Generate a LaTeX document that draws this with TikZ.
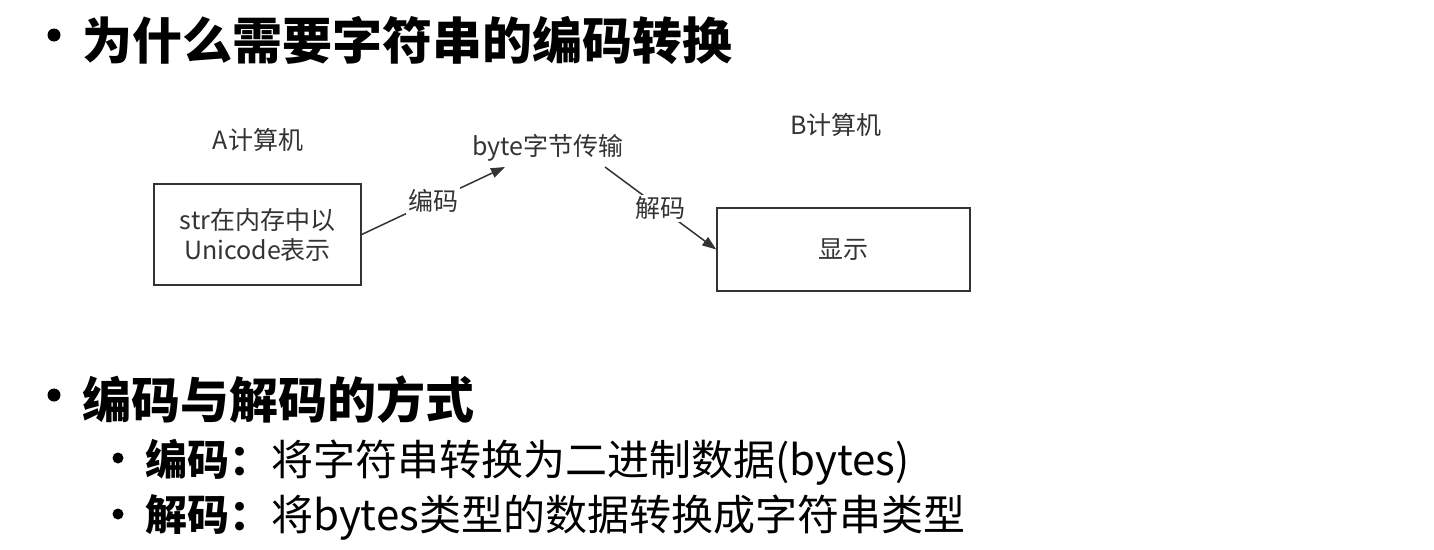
\documentclass[tikz,border=0pt]{standalone}
\usepackage{fontspec}
\setmainfont{Noto Sans CJK SC}
\usetikzlibrary{arrows.meta}

\tikzset{
	box/.style={draw=black!80, line width=1.5pt, inner sep=0pt},
	small/.style={font=\fontsize{25}{30}\selectfont, text=black!80},
	onarrow/.style={small, fill=white, inner sep=2pt},
	arr/.style={draw=black!80, line width=1.5pt, -{Triangle[length=14pt,width=10pt]}},
}

\begin{document}
\begin{tikzpicture}[x=1pt, y=-1pt]
\useasboundingbox (0,0) rectangle (1434,549);

% headings
\foreach \y in {35,395}{
	\fill (54,\y) circle [radius=6.5];
}
\foreach \y in {458,514}{
	\fill (118,\y) circle [radius=5.5];
}
\node[anchor=west, inner sep=0pt, font=\fontsize{50}{60}\selectfont\bfseries] (why) at (82,40) {为什么需要字符串的编码转换};
\node[anchor=west, inner sep=0pt, font=\fontsize{49}{60}\selectfont\bfseries] (how) at (82,400) {编码与解码的方式};
\node[anchor=west, inner sep=0pt, font=\fontsize{42}{50}\selectfont] (enc) at (145,462) {{\bfseries 编码：}将字符串转换为二进制数据(bytes)};
\node[anchor=west, inner sep=0pt, font=\fontsize{42}{50}\selectfont] (dec) at (145,517) {{\bfseries 解码：}将bytes类型的数据转换成字符串类型};

% diagram
\node[small] (pcA) at (258,140) {A计算机};
\node[small] (pcB) at (836,125) {B计算机};
\node[small] (bytes) at (548,148) {byte字节传输};
\node[box, small, minimum width=207pt, minimum height=101pt, align=center] (memA) at (257.5,234.5) {str在内存中以\\Unicode表示};
\node[box, small, minimum width=253pt, minimum height=83pt] (show) at (843.5,249.5) {显示};
\coordinate (bytesIn) at (505,167);
\coordinate (bytesOut) at (605,167);

\draw[arr] (memA.east) -- node[onarrow] (encLbl) {编码} (bytesIn);
\draw[arr] (bytesOut) -- node[onarrow] (decLbl) {解码} (show.west);

\end{tikzpicture}
\end{document}
